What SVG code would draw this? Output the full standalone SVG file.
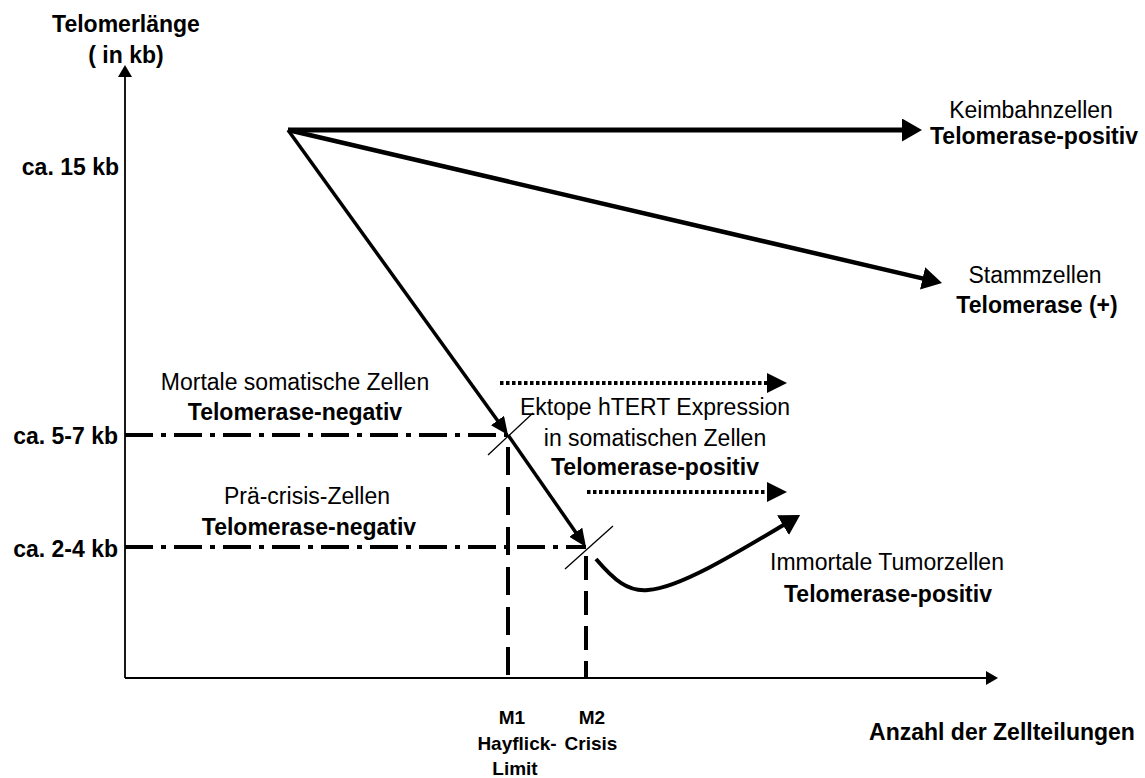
<svg xmlns="http://www.w3.org/2000/svg" width="1145" height="778" viewBox="0 0 1145 778">
<style>
text{font-family:"Liberation Sans",Arial,sans-serif;font-size:23px;fill:#000}
.b{font-weight:bold}
.m{text-anchor:middle}
.e{text-anchor:end}
.s{font-size:19px}
.ln{fill:none;stroke:#000}
</style>
<defs>
<marker id="hBig" markerUnits="userSpaceOnUse" markerWidth="20" markerHeight="23" refX="14" refY="11.5" orient="auto"><path d="M0,0 L20,11.5 L0,23 z" fill="#000"/></marker>
<marker id="hMed" markerUnits="userSpaceOnUse" markerWidth="18" markerHeight="16" refX="13" refY="8" orient="auto"><path d="M0,0 L18,8 L0,16 z" fill="#000"/></marker>
<marker id="hDot" markerUnits="userSpaceOnUse" markerWidth="20" markerHeight="20" refX="14" refY="10" orient="auto"><path d="M0,0 L20,10 L0,20 z" fill="#000"/></marker>
<marker id="hAx" markerUnits="userSpaceOnUse" markerWidth="12" markerHeight="14" refX="8" refY="7" orient="auto"><path d="M0,0 L12,7 L0,14 z" fill="#000"/></marker>
</defs>
<rect width="1145" height="778" fill="#fff"/>
<g id="axes">
<path class="ln" d="M125,678 L994,678" stroke-width="1.8" marker-end="url(#hAx)"/>
<path class="ln" d="M125,678 L125,69" stroke-width="1.8" marker-end="url(#hAx)"/>
</g>
<g id="connectors">
<path class="ln" d="M288,130 L916,130" stroke-width="5" marker-end="url(#hBig)"/>
<path class="ln" d="M288,130 L936.2,281.6" stroke-width="4.5" marker-end="url(#hBig)"/>
<path class="ln" d="M288,130 L505.1,431" stroke-width="3.5" marker-end="url(#hMed)"/>
<path class="ln" d="M508,435 L583.1,542.9" stroke-width="3.5" marker-end="url(#hMed)"/>
<path class="ln" d="M596,559 C614,580 628,592 648,590 C680,588 740,551 795,518" stroke-width="4" marker-end="url(#hBig)"/>
<path class="ln" d="M500,383 L781,383" stroke-width="4" stroke-dasharray="3.5 2.5" marker-end="url(#hDot)"/>
<path class="ln" d="M587,492 L781,492" stroke-width="4" stroke-dasharray="3.5 2.5" marker-end="url(#hDot)"/>
<path class="ln" d="M125,435 L508,435" stroke-width="4" stroke-dasharray="28 8 5 8"/>
<path class="ln" d="M125,547 L586,547" stroke-width="4" stroke-dasharray="28 8 5 8"/>
<path class="ln" d="M508,435 L508,678" stroke-width="4" stroke-dasharray="28 12" stroke-dashoffset="28"/>
<path class="ln" d="M586,547 L586,678" stroke-width="4" stroke-dasharray="24 11" stroke-dashoffset="26"/>
<path class="ln" d="M488,455 L533,413" stroke-width="1.3"/>
<path class="ln" d="M565,569 L613,526" stroke-width="1.3"/>
</g>
<g id="y-axis-label">
<text class="b m" x="126" y="32">Telomerlänge</text>
<text class="b m" x="126" y="63">( in kb)</text>
</g>
<g id="y-ticks">
<text class="b e" x="119" y="175">ca. 15 kb</text>
<text class="b e" x="118" y="444">ca. 5-7 kb</text>
<text class="b e" x="118" y="557">ca. 2-4 kb</text>
</g>
<g id="keimbahn">
<text class="m" x="1031" y="118">Keimbahnzellen</text>
<text class="b m" x="1034" y="144">Telomerase-positiv</text>
</g>
<g id="stammzellen">
<text class="m" x="1035" y="283">Stammzellen</text>
<text class="b m" x="1037" y="313">Telomerase (+)</text>
</g>
<g id="mortale">
<text class="m" x="295" y="390">Mortale somatische Zellen</text>
<text class="b m" x="295" y="420">Telomerase-negativ</text>
</g>
<g id="praecrisis">
<text class="m" x="307" y="504">Prä-crisis-Zellen</text>
<text class="b m" x="309" y="535">Telomerase-negativ</text>
</g>
<g id="ektope">
<text class="m" x="655" y="415">Ektope hTERT Expression</text>
<text class="m" x="655" y="446">in somatischen Zellen</text>
<text class="b m" x="655" y="475">Telomerase-positiv</text>
</g>
<g id="immortale">
<text class="m" x="887" y="570">Immortale Tumorzellen</text>
<text class="b m" x="888" y="602">Telomerase-positiv</text>
</g>
<g id="m1">
<text class="b m s" x="512" y="724">M1</text>
<text class="b m s" x="517" y="750">Hayflick-</text>
<text class="b m s" x="515" y="775">Limit</text>
</g>
<g id="m2">
<text class="b m s" x="592" y="724">M2</text>
<text class="b m s" x="591" y="750">Crisis</text>
</g>
<g id="x-axis-label">
<text class="b m" x="1002" y="740">Anzahl der Zellteilungen</text>
</g>
</svg>
